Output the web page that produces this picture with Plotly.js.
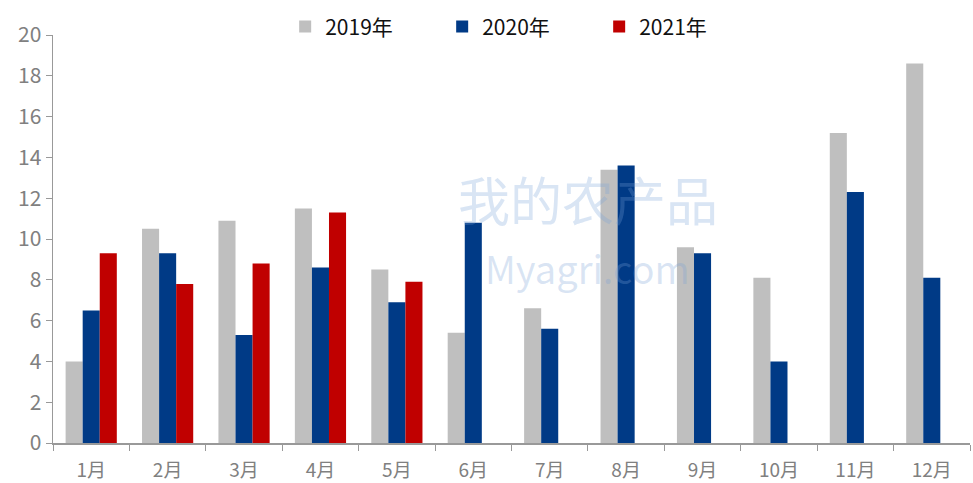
<!DOCTYPE html>
<html>
<head>
<meta charset="utf-8">
<script src="https://cdn.plot.ly/plotly-3.0.1.min.js"></script>
<style>
  html, body { margin: 0; padding: 0; background: #fff; }
  #plot { width: 973px; height: 483px; }
</style>
</head>
<body>
<div id="plot"></div>
<script>
// months on the x axis
var months = ["1月", "2月", "3月", "4月", "5月", "6月",
  "7月", "8月", "9月", "10月", "11月", "12月"];

// values
var y2019 = [4.0, 10.5, 10.9, 11.5, 8.5, 5.4, 6.6, 13.4, 9.6, 8.1, 15.2, 18.6];
var y2020 = [6.5, 9.3, 5.3, 8.6, 6.9, 10.8, 5.6, 13.6, 9.3, 4.0, 12.3, 8.1];
var y2021 = [9.3, 7.8, 8.8, 11.3, 7.9, null, null, null, null, null, null, null];

var yTicks = [0, 2, 4, 6, 8, 10, 12, 14, 16, 18, 20];

var fontFam = "'Noto Sans CJK SC', 'Liberation Sans', sans-serif";

var trace1 = {
  x: months, y: y2019, type: "bar", name: "2019年",
  marker: { color: "#BFBFBF" }
};
var trace2 = {
  x: months, y: y2020, type: "bar", name: "2020年",
  marker: { color: "#003A86" }
};
var trace3 = {
  x: months, y: y2021, type: "bar", name: "2021年",
  marker: { color: "#C00000" }
};

var data = [trace1, trace2, trace3];

var layout = {
  width: 973,
  height: 483,
  margin: { l: 53, r: 3, t: 35, b: 40, autoexpand: false },
  paper_bgcolor: "#fff",
  plot_bgcolor: "#fff",
  barmode: "group",
  bargap: 0.33,
  bargroupgap: 0,
  font: { family: fontFam, color: "#808080" },
  showlegend: true,
  legend: {
    orientation: "h",
    x: 0.51, xanchor: "center",
    y: 1.02, yanchor: "middle",
    font: { size: 21, color: "#111", family: fontFam },
    entrywidth: 112,
    traceorder: "normal"
  },
  xaxis: {
    type: "category",
    tickson: "boundaries",
    ticks: "outside",
    ticklen: 6,
    tickcolor: "#999",
    showline: true,
    linecolor: "#999",
    linewidth: 1.5,
    showgrid: false,
    tickfont: { size: 19, color: "#808080" },
    ticklabelstandoff: 10,
    fixedrange: true
  },
  yaxis: {
    range: [0, 20],
    tickvals: yTicks,
    ticks: "outside",
    ticklen: 6,
    tickcolor: "#999",
    showline: true,
    linecolor: "#999",
    linewidth: 1.5,
    showgrid: false,
    zeroline: false,
    tickfont: { size: 21, color: "#808080" },
    fixedrange: true
  },
  annotations: [
    {
      xref: "paper", yref: "paper", x: 0.583, y: 0.6,
      text: "我的农产品", showarrow: false,
      font: { size: 52, color: "rgba(120,160,215,0.28)", family: fontFam }
    },
    {
      xref: "paper", yref: "paper", x: 0.583, y: 0.43,
      text: "Myagri.com", showarrow: false,
      font: { size: 38, color: "rgba(120,160,215,0.28)", family: fontFam }
    }
  ]
};

Plotly.newPlot("plot", data, layout, { displayModeBar: false, staticPlot: true });
</script>
</body>
</html>
